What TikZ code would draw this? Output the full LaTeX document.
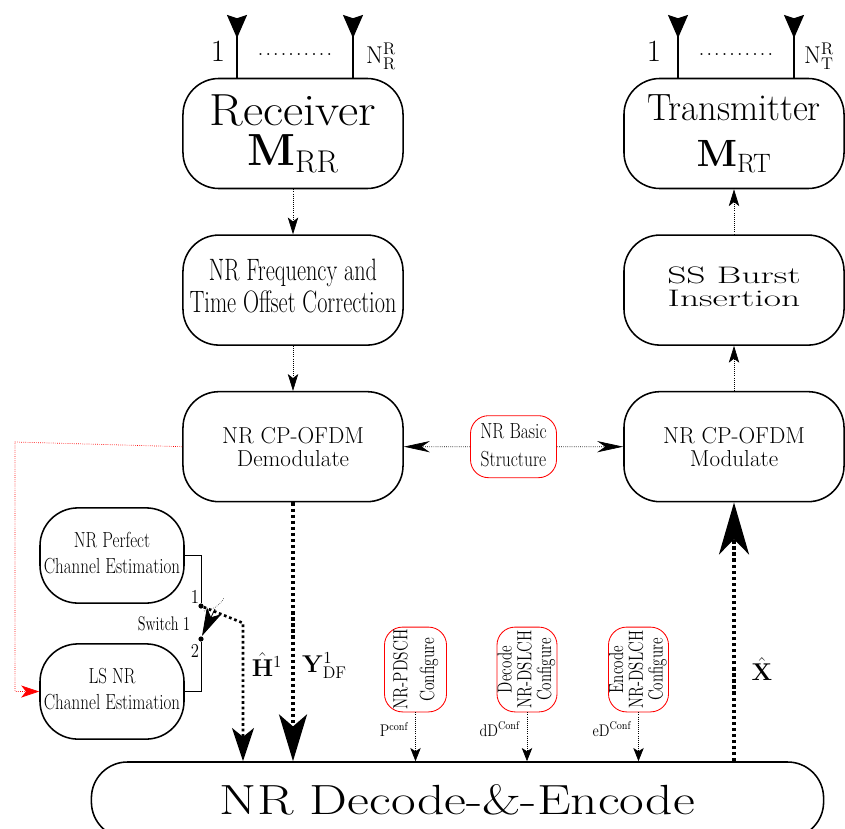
\RequirePackage{fix-cm}
\documentclass[tikz,border=0pt]{standalone}
\usepackage{amsmath}
\usepackage{graphicx}
\usetikzlibrary{arrows.meta,positioning,calc}

% stretch a (multi-line) label horizontally
\newcommand{\xstretch}[2]{\scalebox{#1}[1]{\begin{tabular}{@{}c@{}}#2\end{tabular}}}
% row of dots between the antennas
\newcommand{\antdots}{.\kern1.5pt.\kern1.5pt.\kern1.5pt.\kern1.5pt.\kern1.5pt.\kern1.5pt.\kern1.5pt.\kern1.5pt.\kern1.5pt.}

\begin{document}
\begin{tikzpicture}[x=0.025cm,y=0.025cm,node distance=1.125cm and 1cm, every node/.style={align=center}]
\tikzset{
  block/.style={draw,line width=1.1pt,rounded corners=0.9cm,minimum width=5.5cm,minimum height=2.75cm,inner sep=0pt},
  estim/.style={draw,line width=1.1pt,rounded corners=0.95cm,minimum width=3.6cm,minimum height=2.38cm,inner sep=0pt,font=\fontsize{15.5}{18}\selectfont},
  redbox/.style={draw=red,line width=0.6pt,rounded corners=0.45cm,inner sep=0pt},
  link/.style={densely dotted,line width=0.5pt,-{Stealth[length=0.42cm,width=0.26cm,inset=0.1cm]}},
  sidelink/.style={densely dotted,line width=0.5pt,-{Stealth[length=0.65cm,width=0.28cm,inset=0.2cm]}},
  cfglink/.style={densely dotted,line width=0.5pt,-{Stealth[length=0.33cm,width=0.26cm,inset=0.08cm]}},
  redlink/.style={red,densely dotted,line width=0.5pt,-{Stealth[length=0.45cm,width=0.3cm,inset=0.12cm]}},
  antenna/.style={line width=1.1pt,{Stealth[reversed,length=0.58cm,width=0.5cm,inset=0.08cm]}-},
  wire/.style={line width=0.6pt},
  swdot/.style={circle,fill,inner sep=0pt,minimum size=0.13cm},
  fatflow/.style={dotted,line width=2.2pt},
}
\useasboundingbox (0,0) rectangle (845,-828);

% receiver side
\node[block,font=\fontsize{32}{29}\selectfont] (rx) at (293,-133.5) {\scalebox{1.1}[1]{Receiver}\\$\mathbf{M}_{\mathrm{RR}}$};
\node[block,font=\fontsize{22}{23}\selectfont,below=of rx] (foc) {\xstretch{0.72}{NR Frequency and\\Time Offset Correction}};
\node[block,font=\fontsize{16.4}{16.5}\selectfont,below=of foc] (demod) {NR CP-OFDM\\Demodulate};

% transmitter side
\node[block,font=\fontsize{27}{33}\selectfont] (tx) at (734,-133.5) {\scalebox{0.96}[1]{Transmitter}\\$\mathbf{M}_{\mathrm{RT}}$};
\node[block,font=\fontsize{17}{15.6}\selectfont,below=of tx] (ssb) {\xstretch{1.57}{SS Burst\\Insertion}};
\node[block,font=\fontsize{16.4}{16.5}\selectfont,below=of ssb] (mod) {NR CP-OFDM\\Modulate};

\node[redbox,minimum width=2.15cm,minimum height=1.55cm,font=\fontsize{15.5}{20}\selectfont] (nrbasic) at ($(demod)!0.5!(mod)$) {\xstretch{0.8}{NR Basic\\Structure}};

% channel estimation
\node[estim] (pce) at (112,-555.5) {\xstretch{0.78}{NR Perfect\\Channel Estimation}};
\node[estim] (lse) at (112,-691.5) {\xstretch{0.78}{LS NR\\Channel Estimation}};

% decode and encode
\node[draw,line width=1.1pt,rounded corners=0.9cm,minimum width=18.3cm,minimum height=1.9cm,inner sep=0pt,font=\fontsize{30}{30}\selectfont] (nrde) at (457.5,-800) {\scalebox{1.27}[1]{NR Decode-\&-Encode}};

\node[redbox,minimum width=1.55cm,minimum height=2.12cm,font=\fontsize{14.5}{19}\selectfont] (pcfg) at (415.5,-669.5) {\rotatebox{90}{\xstretch{0.76}{NR-PDSCH\\Configure}}};
\node[redbox,minimum width=1.5cm,minimum height=2.12cm,font=\fontsize{14.5}{12.8}\selectfont] (dcfg) at (527,-669.5) {\rotatebox{90}{\xstretch{0.74}{Decode\\NR-DSLCH\\Configure}}};
\node[redbox,minimum width=1.5cm,minimum height=2.12cm,font=\fontsize{14.5}{12.8}\selectfont] (ecfg) at (638.5,-669.5) {\rotatebox{90}{\xstretch{0.74}{Encode\\NR-DSLCH\\Configure}}};

% antennas
\coordinate (ra1) at (237,-15);
\coordinate (ra2) at (353,-15);
\coordinate (ta1) at (678,-15);
\coordinate (ta2) at (794,-15);
\draw[antenna] (ra1) -- (ra1 |- rx.north);
\draw[antenna] (ra2) -- (ra2 |- rx.north);
\draw[antenna] (ta1) -- (ta1 |- tx.north);
\draw[antenna] (ta2) -- (ta2 |- tx.north);
\node[font=\fontsize{22}{22}\selectfont,anchor=base] (rone) at (218,-62) {1};
\node[font=\Large,anchor=base] (rdots) at (295,-56) {\antdots};
\node[font=\LARGE,anchor=base] (rnum) at (381,-63) {$\mathrm{N}^{\mathrm{R}}_{\mathrm{R}}$};
\node[font=\fontsize{22}{22}\selectfont,anchor=base] (tone) at (654,-62) {1};
\node[font=\Large,anchor=base] (tdots) at (736,-56) {\antdots};
\node[font=\LARGE,anchor=base] (tnum) at (819,-63) {$\mathrm{N}^{\mathrm{R}}_{\mathrm{T}}$};

% switch
\node[swdot] (sw1) at (201,-606) {};
\node[swdot] (sw2) at (201,-639) {};
\draw[wire] (pce.east) -| (sw1);
\draw[wire] (lse.east) -| (sw2);
\node[font=\fontsize{14}{14}\selectfont] (swone) at (195,-597) {\scalebox{0.85}[1]{1}};
\node[font=\fontsize{14}{14}\selectfont] (swtwo) at (195,-651) {\scalebox{0.85}[1]{2}};
\node[font=\fontsize{14}{14}\selectfont,anchor=east] (swlab) at (195,-624) {\scalebox{0.72}[1]{Switch 1}};
\coordinate (lever) at (215,-609);
\coordinate (levertip) at (202,-636);
\draw[wire,-{Stealth[length=0.7cm,width=0.4cm,inset=0.18cm]}] (lever) -- (levertip);
\coordinate (arcs) at (204,-611);
\coordinate (arce) at (224,-598);
\draw[densely dotted,line width=0.4pt] (arcs) to[bend right=25] (arce);

% flows
\draw[link] (rx) -- (foc);
\draw[link] (foc) -- (demod);
\draw[link] (mod) -- (ssb);
\draw[link] (ssb) -- (tx);
\draw[sidelink] (nrbasic) -- (demod);
\draw[sidelink] (nrbasic) -- (mod);
\coordinate (redturn) at (15,-442);
\draw[redlink] (demod.west) -- (redturn) |- (lse.west);

\coordinate (hbend) at (243,-623);
\draw[fatflow,line width=1.9pt,-{Stealth[length=0.83cm,width=0.55cm,inset=0.22cm]}] (sw1) -- (hbend) -- (hbend |- nrde.north) node[pos=0.3,right=2pt,font=\LARGE] {$\hat{\mathbf{H}}^{1}$};
\draw[fatflow,line width=2.3pt,-{Stealth[length=1.17cm,width=0.7cm,inset=0.3cm]}] (demod) -- (demod |- nrde.north) node[pos=0.63,right=2pt,font=\LARGE] {$\mathbf{Y}^{1}_{\mathrm{DF}}$};
\draw[fatflow,line width=2.3pt,-{Stealth[length=1.3cm,width=0.75cm,inset=0.38cm]}] (mod |- nrde.north) -- (mod) node[pos=0.355,right=8pt,font=\LARGE] {$\hat{\mathbf{X}}$};

\draw[cfglink] (pcfg) -- (pcfg |- nrde.north) node[pos=0.35,left=1pt,font=\large] {\scalebox{0.85}[1]{$\mathrm{P}^{\mathrm{conf}}$}};
\draw[cfglink] (dcfg) -- (dcfg |- nrde.north) node[pos=0.35,left=1pt,font=\large] {\scalebox{0.85}[1]{$\mathrm{dD}^{\mathrm{Conf}}$}};
\draw[cfglink] (ecfg) -- (ecfg |- nrde.north) node[pos=0.35,left=1pt,font=\large] {\scalebox{0.85}[1]{$\mathrm{eD}^{\mathrm{Conf}}$}};
\end{tikzpicture}
\end{document}
